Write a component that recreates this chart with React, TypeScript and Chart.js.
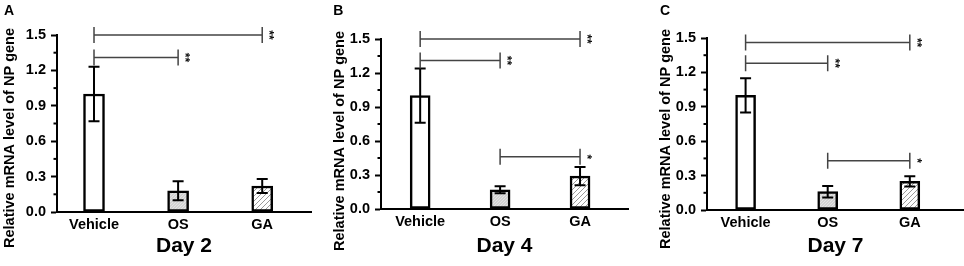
import React, { useEffect, useRef } from 'react';
import { Chart, registerables } from 'chart.js';

Chart.register(...registerables);

// ---------------- data ----------------
const categories = ['Vehicle', 'OS', 'GA'];
const panelLetters = ['A', 'B', 'C'];
const dayLabels = ['Day 2', 'Day 4', 'Day 7'];
const yAxisTitle = 'Relative mRNA level of NP gene';
const yTicks = [0, 0.3, 0.6, 0.9, 1.2, 1.5];
const yMinorTicks = [0.15, 0.45, 0.75, 1.05, 1.35];

const day2Means = [1.0, 0.18, 0.22];
const day2Errors = [0.23, 0.08, 0.06];
const day4Means = [1.0, 0.17, 0.29];
const day4Errors = [0.24, 0.03, 0.08];
const day7Means = [1.0, 0.16, 0.25];
const day7Errors = [0.15, 0.05, 0.045];

// significance brackets: [fromCategory, toCategory, level, mark]
const day2Brackets: [number, number, number, string][] = [
  [0, 2, 1.5, '**'],
  [0, 1, 1.31, '**'],
];
const day4Brackets: [number, number, number, string][] = [
  [0, 2, 1.5, '**'],
  [0, 1, 1.31, '**'],
  [1, 2, 0.46, '*'],
];
const day7Brackets: [number, number, number, string][] = [
  [0, 2, 1.46, '**'],
  [0, 1, 1.28, '**'],
  [1, 2, 0.43, '*'],
];

const allMeans = [day2Means, day4Means, day7Means];
const allErrors = [day2Errors, day4Errors, day7Errors];
const allBrackets = [day2Brackets, day4Brackets, day7Brackets];

// ---------------- layout / style ----------------
const H = 266;
const FONT = "'Liberation Sans', Arial, Helvetica, sans-serif";
const panelLayouts = [
  { left: 0, width: 322, l: 57, r: 311, t: 35, b: 212, xMin: -0.44, xMax: 2.58, bar: 21, titleX: 13.7, titleY: 138, letterX: 4 },
  { left: 322, width: 320, l: 59, r: 306, t: 39, b: 209, xMin: -0.49, xMax: 2.6, bar: 20, titleX: 21.7, titleY: 141, letterX: 11.3 },
  { left: 642, width: 322, l: 65, r: 322, t: 38, b: 210, xMin: -0.47, xMax: 2.66, bar: 20, titleX: 28.4, titleY: 139, letterX: 18 },
];

function makePattern(kind: 'os' | 'ga'): CanvasPattern | string {
  const s = kind === 'os' ? 3 : 5;
  const c = document.createElement('canvas');
  c.width = s;
  c.height = s;
  const g = c.getContext('2d');
  if (!g) return kind === 'os' ? '#d4d4d4' : '#ffffff';
  g.fillStyle = kind === 'os' ? '#d2d2d2' : '#ffffff';
  g.fillRect(0, 0, s, s);
  g.strokeStyle = kind === 'os' ? '#e4e4e4' : '#9a9a9a';
  g.lineWidth = 1;
  g.beginPath();
  g.moveTo(-1, s + 1);
  g.lineTo(s + 1, -1);
  g.moveTo(-1, 1);
  g.lineTo(1, -1);
  g.moveTo(s - 1, s + 1);
  g.lineTo(s + 1, s - 1);
  g.stroke();
  const p = g.createPattern(c, 'repeat');
  return p || '#ffffff';
}

function Panel({ index }: { index: number }) {
  const ref = useRef<HTMLCanvasElement>(null);
  const lay = panelLayouts[index];

  useEffect(() => {
    const canvas = ref.current;
    if (!canvas) return;
    const means = allMeans[index];
    const errors = allErrors[index];
    const brackets = allBrackets[index];

    const overlay = {
      id: 'overlay' + index,
      afterDatasetsDraw(chart: any) {
        const ctx = chart.ctx;
        const xs = chart.scales.x;
        const ys = chart.scales.y;
        ctx.save();
        ctx.strokeStyle = '#000';
        ctx.lineWidth = 2;
        means.forEach((m, i) => {
          const x = xs.getPixelForValue(i);
          const yt = ys.getPixelForValue(m + errors[i]);
          const yb = ys.getPixelForValue(m - errors[i]);
          ctx.beginPath();
          ctx.moveTo(x, yt);
          ctx.lineTo(x, yb);
          ctx.moveTo(x - 5.5, yt);
          ctx.lineTo(x + 5.5, yt);
          ctx.moveTo(x - 5.5, yb);
          ctx.lineTo(x + 5.5, yb);
          ctx.stroke();
        });
        ctx.restore();
      },
      afterDraw(chart: any) {
        const ctx = chart.ctx;
        const xs = chart.scales.x;
        const ys = chart.scales.y;
        const area = chart.chartArea;
        ctx.save();
        // minor ticks
        ctx.strokeStyle = '#000';
        ctx.lineWidth = 2;
        yMinorTicks.forEach((v) => {
          const y = ys.getPixelForValue(v);
          ctx.beginPath();
          ctx.moveTo(area.left - 3.5, y);
          ctx.lineTo(area.left, y);
          ctx.stroke();
        });
        // brackets
        ctx.strokeStyle = '#444';
        ctx.lineWidth = 1.5;
        brackets.forEach(([from, to, level, mark]) => {
          const x1 = xs.getPixelForValue(from);
          const x2 = xs.getPixelForValue(to);
          const y = ys.getPixelForValue(level);
          ctx.beginPath();
          ctx.moveTo(x1, y);
          ctx.lineTo(x2, y);
          ctx.moveTo(x1, y - 8);
          ctx.lineTo(x1, y + 8);
          ctx.moveTo(x2, y - 8);
          ctx.lineTo(x2, y + 8);
          ctx.stroke();
          ctx.save();
          ctx.translate(x2 + 6.5, y);
          ctx.rotate(Math.PI / 2);
          ctx.fillStyle = '#111';
          ctx.font = `bold 12px ${FONT}`;
          ctx.textAlign = 'center';
          ctx.textBaseline = 'middle';
          ctx.fillText(mark, 0, 0);
          ctx.restore();
        });
        // y-axis title
        ctx.save();
        ctx.translate(lay.titleX, lay.titleY);
        ctx.rotate(-Math.PI / 2);
        ctx.fillStyle = '#000';
        ctx.font = `bold 14.5px ${FONT}`;
        ctx.textAlign = 'center';
        ctx.textBaseline = 'alphabetic';
        ctx.fillText(yAxisTitle, 0, 0);
        ctx.restore();
        // panel letter
        ctx.fillStyle = '#000';
        ctx.font = `bold 14px ${FONT}`;
        ctx.textAlign = 'left';
        ctx.textBaseline = 'alphabetic';
        ctx.fillText(panelLetters[index], lay.letterX, 15);
        ctx.restore();
      },
    };

    const chart = new Chart(canvas, {
      type: 'bar',
      data: {
        datasets: [
          {
            data: means.map((m, i) => ({ x: i, y: m })),
            backgroundColor: ['#ffffff', makePattern('os'), makePattern('ga')] as any,
            borderColor: '#000',
            borderWidth: 2.5,
            borderSkipped: false,
            barThickness: lay.bar,
          },
        ],
      },
      options: {
        animation: false,
        responsive: false,
        devicePixelRatio: 1,
        events: [],
        layout: {
          padding: { left: 0, top: lay.t, right: lay.width - lay.r, bottom: 0 },
        },
        plugins: {
          legend: { display: false },
          tooltip: { enabled: false },
        },
        scales: {
          x: {
            type: 'linear',
            min: lay.xMin,
            max: lay.xMax,
            offset: false,
            bounds: 'ticks',
            z: 1,
            afterBuildTicks: (s: any) => {
              s.ticks = categories.map((_, i) => ({ value: i }));
            },
            afterFit: (s: any) => {
              s.height = H - lay.b;
            },
            grid: { display: false, drawTicks: false, offset: false },
            border: { display: true, color: '#000', width: 2 },
            ticks: {
              autoSkip: false,
              maxRotation: 0,
              padding: 4,
              color: '#000',
              font: { family: FONT, size: 14.5, weight: 'bold' },
              callback: (v: any) => categories[Number(v)] ?? '',
            },
            title: {
              display: true,
              text: dayLabels[index],
              color: '#000',
              font: { family: FONT, size: 21, weight: 'bold' },
              padding: { top: 0, bottom: 7 },
            },
          },
          y: {
            type: 'linear',
            min: 0,
            max: 1.5,
            z: 1,
            afterBuildTicks: (s: any) => {
              s.ticks = yTicks.map((v) => ({ value: v }));
            },
            afterFit: (s: any) => {
              s.width = lay.l;
            },
            grid: {
              display: true,
              drawOnChartArea: false,
              drawTicks: true,
              tickLength: 6,
              tickWidth: 2,
              tickColor: '#000',
            },
            border: { display: true, color: '#000', width: 2 },
            ticks: {
              padding: 5,
              color: '#000',
              font: { family: FONT, size: 14.5, weight: 'bold' },
              callback: (v: any) => Number(v).toFixed(1),
            },
          },
        },
      } as any,
      plugins: [overlay],
    });
    return () => chart.destroy();
  }, [index]);

  return (
    <canvas
      ref={ref}
      width={lay.width}
      height={H}
      style={{ position: 'absolute', left: lay.left, top: 0, width: lay.width, height: H, display: 'block' }}
    />
  );
}

export default function App() {
  return (
    <div style={{ position: 'fixed', left: 0, top: 0, width: 964, height: H, background: '#fff', overflow: 'hidden' }}>
      {[0, 1, 2].map((i) => (
        <Panel key={i} index={i} />
      ))}
    </div>
  );
}
